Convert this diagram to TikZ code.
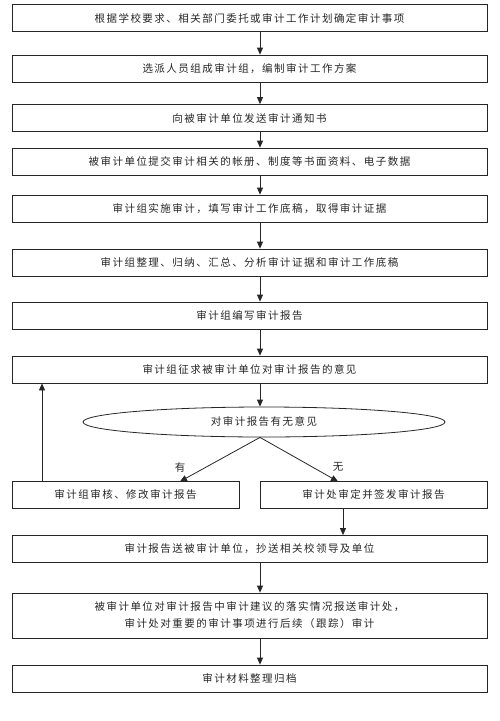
\documentclass[tikz,border=0pt]{standalone}
\usepackage{fontspec}
\newfontfamily\cjk[LetterSpace=14]{Noto Sans CJK SC}
\usetikzlibrary{arrows.meta,shapes.geometric}
\tikzset{
  stepbox/.style={draw=black!85, line width=0.8pt, minimum width=475pt, minimum height=27pt, inner sep=0pt,
    font=\cjk\fontsize{10.5}{17}\selectfont, text=black!85, align=center},
  halfbox/.style={stepbox, minimum width=227pt},
  decide/.style={draw=black!85, line width=0.8pt, ellipse, minimum width=362pt, minimum height=30pt, inner sep=0pt,
    font=\cjk\fontsize{10.5}{17}\selectfont, text=black!85},
  arr/.style={draw=black!85, line width=0.8pt, -{Triangle[length=7pt,width=6pt]}},
  lbl/.style={font=\cjk\fontsize{10.5}{12}\selectfont, text=black!85, inner sep=0pt}
}
\begin{document}
\begin{tikzpicture}[x=1pt,y=1pt]
\useasboundingbox (0,0) rectangle (500,-721);
\node[stepbox] (b1) at (249.5,-18) {根据学校要求、相关部门委托或审计工作计划确定审计事项};
\node[stepbox] (b2) at (249.5,-68.5) {选派人员组成审计组，编制审计工作方案};
\node[stepbox] (b3) at (249.5,-118) {向被审计单位发送审计通知书};
\node[stepbox] (b4) at (249.5,-161.5) {被审计单位提交审计相关的帐册、制度等书面资料、电子数据};
\node[stepbox] (b5) at (249.5,-208.5) {审计组实施审计，填写审计工作底稿，取得审计证据};
\node[stepbox] (b6) at (249.5,-262.5) {审计组整理、归纳、汇总、分析审计证据和审计工作底稿};
\node[stepbox] (b7) at (249.5,-315.5) {审计组编写审计报告};
\node[stepbox] (b8) at (249.5,-369.5) {审计组征求被审计单位对审计报告的意见};
\node[decide] (e) at (264,-422) {对审计报告有无意见};
\node[halfbox] (bl) at (125.5,-495) {审计组审核、修改审计报告};
\node[halfbox] (br) at (373.5,-495) {审计处审定并签发审计报告};
\node[stepbox] (b9) at (249.5,-549) {审计报告送被审计单位，抄送相关校领导及单位};
\node[stepbox, minimum height=45pt] (b10) at (249.5,-615.5) {被审计单位对审计报告中审计建议的落实情况报送审计处，\\审计处对重要的审计事项进行后续（跟踪）审计};
\node[stepbox] (b11) at (249.5,-678.5) {审计材料整理归档};

\coordinate (X) at (260,0);
\coordinate (F) at (42,0);
\coordinate (R) at (343,0);
\coordinate (Ly) at (180,-481.5);
\coordinate (Ln) at (338,-481.5);
\node[lbl] (ty) at (180,-467) {有};
\node[lbl] (tn) at (338,-467) {无};

\draw[arr] (b1.south -| X) -- (b2.north -| X);
\draw[arr] (b2.south -| X) -- (b3.north -| X);
\draw[arr] (b3.south -| X) -- (b4.north -| X);
\draw[arr] (b4.south -| X) -- (b5.north -| X);
\draw[arr] (b5.south -| X) -- (b6.north -| X);
\draw[arr] (b6.south -| X) -- (b7.north -| X);
\draw[arr] (b7.south -| X) -- (b8.north -| X);
\draw[arr] (b8.south -| X) -- (e.north -| X);
\draw[arr] (e.south -| X) -- (Ly);
\draw[arr] (e.south -| X) -- (Ln);
\draw[arr] (bl.north -| F) -- (b8.south -| F);
\draw[arr] (br.south -| R) -- (b9.north -| R);
\draw[arr] (b9.south -| X) -- (b10.north -| X);
\draw[arr] (b10.south -| X) -- (b11.north -| X);
\end{tikzpicture}
\end{document}
